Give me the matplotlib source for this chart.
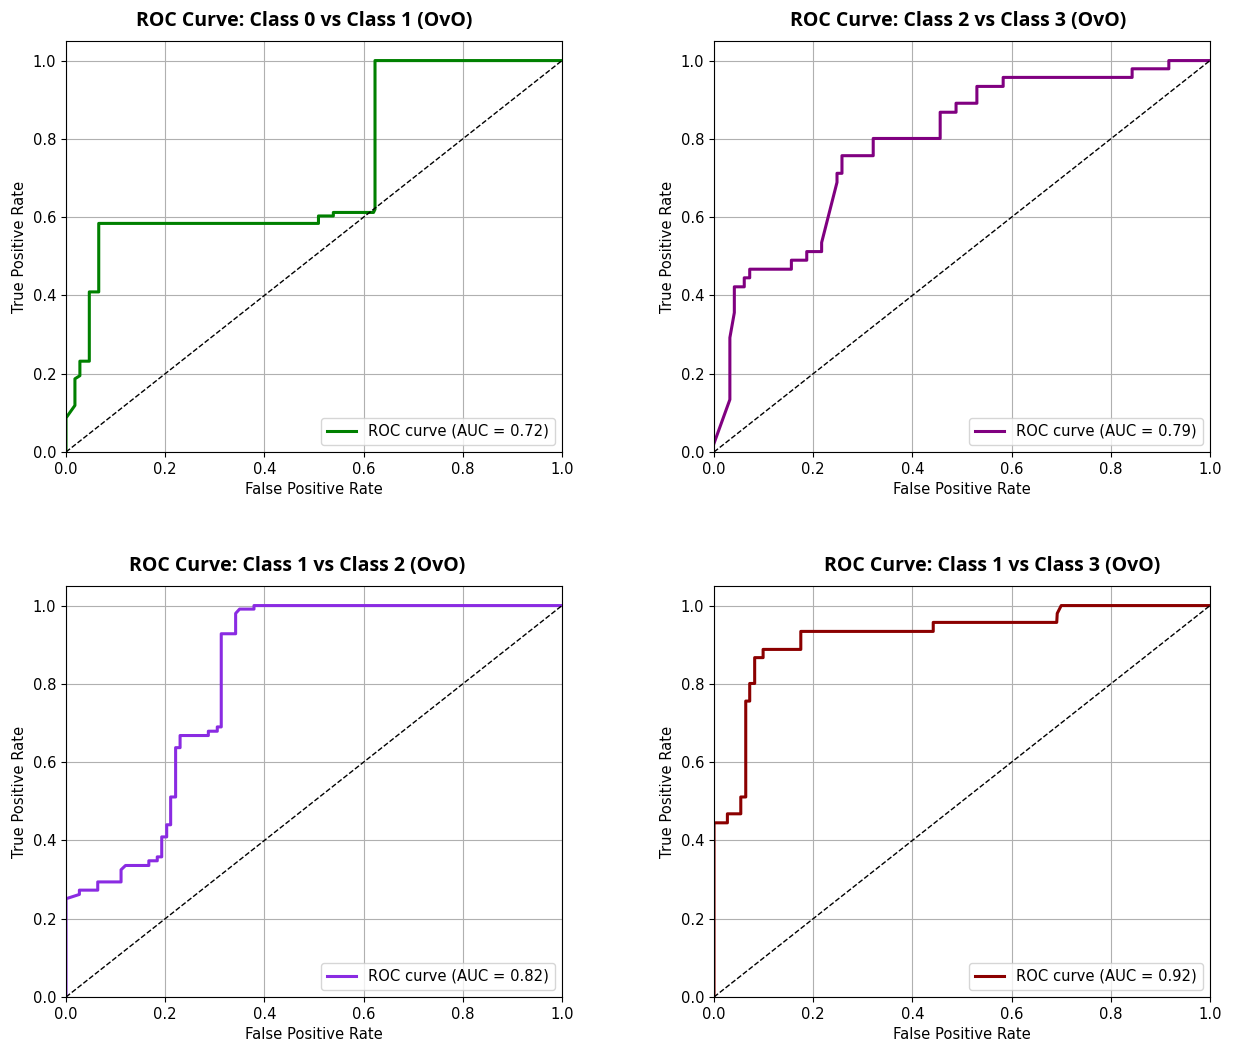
import matplotlib
matplotlib.use("Agg")
import matplotlib.pyplot as plt

plt.rcParams.update({
    "font.size": 10.6,
})

# ── Data ───────────────────────────────────────────────────────────────────────
titles = [
    "ROC Curve: Class 0 vs Class 1 (OvO)",
    "ROC Curve: Class 2 vs Class 3 (OvO)",
    "ROC Curve: Class 1 vs Class 2 (OvO)",
    "ROC Curve: Class 1 vs Class 3 (OvO)",
]
aucs = [0.72, 0.79, 0.82, 0.92]
colors = ["green", "purple", "blueviolet", "darkred"]

fpr_01 = [0, 0, 0.018, 0.018, 0.028, 0.028, 0.047, 0.047, 0.066, 0.066,
          0.509, 0.509, 0.539, 0.539, 0.620, 0.623, 0.623, 1.0]
tpr_01 = [0, 0.087, 0.119, 0.187, 0.195, 0.232, 0.232, 0.409, 0.409, 0.584,
          0.584, 0.603, 0.603, 0.612, 0.612, 0.620, 1.0, 1.0]

fpr_23 = [0, 0.032, 0.032, 0.041, 0.041, 0.061, 0.061, 0.072, 0.072, 0.156,
          0.156, 0.187, 0.187, 0.217, 0.217, 0.248, 0.248, 0.258, 0.258, 0.321,
          0.321, 0.456, 0.456, 0.488, 0.488, 0.530, 0.530, 0.583, 0.583, 0.843,
          0.843, 0.917, 0.917, 1.0]
tpr_23 = [0.022, 0.134, 0.292, 0.356, 0.422, 0.422, 0.445, 0.445, 0.467, 0.467,
          0.490, 0.490, 0.512, 0.512, 0.535, 0.689, 0.712, 0.712, 0.757, 0.757,
          0.801, 0.801, 0.868, 0.868, 0.891, 0.891, 0.934, 0.934, 0.957, 0.957,
          0.979, 0.979, 1.0, 1.0]

fpr_12 = [0, 0, 0.027, 0.027, 0.064, 0.064, 0.111, 0.111, 0.120, 0.167,
          0.167, 0.184, 0.184, 0.193, 0.193, 0.203, 0.203, 0.211, 0.211, 0.221,
          0.221, 0.230, 0.230, 0.287, 0.287, 0.305, 0.305, 0.313, 0.313, 0.342,
          0.342, 0.350, 0.379, 0.379, 1.0]
tpr_12 = [0, 0.251, 0.262, 0.273, 0.273, 0.294, 0.294, 0.325, 0.336, 0.336,
          0.348, 0.348, 0.358, 0.358, 0.409, 0.409, 0.440, 0.440, 0.511, 0.511,
          0.637, 0.637, 0.668, 0.668, 0.679, 0.679, 0.690, 0.690, 0.928, 0.928,
          0.980, 0.991, 0.991, 1.0, 1.0]

fpr_13 = [0, 0, 0.027, 0.027, 0.054, 0.054, 0.064, 0.064, 0.072, 0.072,
          0.082, 0.082, 0.099, 0.099, 0.175, 0.175, 0.442, 0.442, 0.691, 0.692,
          0.700, 1.0]
tpr_13 = [0, 0.445, 0.445, 0.468, 0.468, 0.511, 0.511, 0.756, 0.756, 0.801,
          0.801, 0.867, 0.867, 0.888, 0.888, 0.934, 0.934, 0.957, 0.957, 0.980,
          1.0, 1.0]

fprs = [fpr_01, fpr_23, fpr_12, fpr_13]
tprs = [tpr_01, tpr_23, tpr_12, tpr_13]

# ── Figure ─────────────────────────────────────────────────────────────────────
fig = plt.figure(figsize=(12.34, 10.44), dpi=100)
W, H = 1234, 1044
boxes = [  # left, top, right, bottom in pixels
    (66, 41, 562, 452),
    (714, 41, 1210, 452),
    (66, 586, 562, 997),
    (714, 586, 1210, 997),
]
title_x = [0.480, 0.493, 0.465, 0.561]  # titles sit a bit off-centre in the source

for i in range(4):
    l, t, r, b = boxes[i]
    ax = fig.add_axes([l / W, 1 - b / H, (r - l) / W, (b - t) / H])
    ax.plot(fprs[i], tprs[i], color=colors[i], lw=2.2,
            label=f"ROC curve (AUC = {aucs[i]:.2f})")
    ax.plot([0, 1], [0, 1], "k--", lw=1)
    ax.set_xlim(0, 1.0)
    ax.set_ylim(0, 1.05)
    ax.set_xlabel("False Positive Rate")
    ax.set_ylabel("True Positive Rate")
    ax.set_title(titles[i], fontsize=14, fontweight="bold",
                 family="Open Sans", pad=10.5, x=title_x[i])
    ax.legend(loc="lower right")
    ax.grid(True)

fig.savefig("out.png", dpi=100)
